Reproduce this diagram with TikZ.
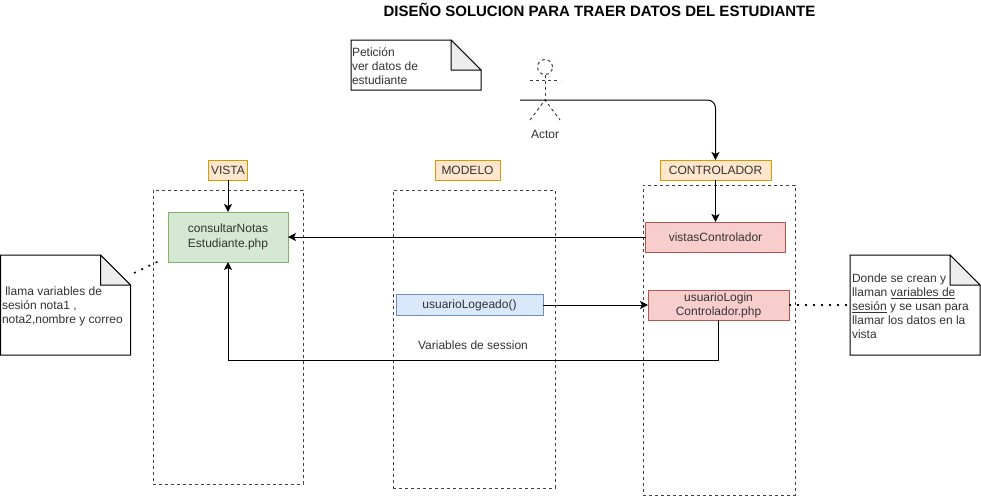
\documentclass[tikz,border=0pt]{standalone}
\usepackage{fontspec}
\setmainfont{Liberation Sans}
\usetikzlibrary{arrows.meta}
\definecolor{ink}{HTML}{333333}
\definecolor{gfill}{HTML}{D5E8D4}\definecolor{gline}{HTML}{82B366}
\definecolor{rfill}{HTML}{F8CECC}\definecolor{rline}{HTML}{B85450}
\definecolor{bfill}{HTML}{DAE8FC}\definecolor{bline}{HTML}{6C8EBF}
\definecolor{ofill}{HTML}{FFE6CC}\definecolor{oline}{HTML}{D79B00}
\tikzset{
  x=1pt,y=-1pt,
  every node/.style={font=\fontsize{12}{14}\selectfont,text=ink,inner sep=0pt,outer sep=0pt},
  conn/.style={draw=black,line width=1pt,-{Stealth[length=8pt,width=8pt,inset=2pt]}},
  frame/.style={draw=black!75,line width=1pt,dash pattern=on 3pt off 3pt},
  lbl/.style={draw=oline,fill=ofill,line width=1pt,minimum height=20pt},
  box/.style={line width=1pt,align=center},
  dots/.style={draw=black,line width=1.5pt,dash pattern=on 2pt off 6pt},
  notebox/.style={draw=none,minimum width=130pt,anchor=north west},
  notetext/.style={anchor=west,align=left,font=\fontsize{12}{14}\selectfont},
  fold/.style={draw=black,line width=1pt,fill=black!7,line join=round},
  notebody/.style={draw=black,line width=1pt,fill=white,line join=miter}
}
\newcommand{\notepath}[1]{%
  \path[notebody] (#1.north west) -- ([xshift=-30pt]#1.north east) -- ([yshift=-30pt]#1.north east) -- (#1.south east) -- (#1.south west) -- cycle;
  \path[fold] ([xshift=-30pt]#1.north east) -- ([xshift=-30pt,yshift=-30pt]#1.north east) -- ([yshift=-30pt]#1.north east) -- cycle;}
\begin{document}
\begin{tikzpicture}
\useasboundingbox (0,0) rectangle (981,496);
\fill[white] (0,0) rectangle (981,496);
% title
\node[font=\fontsize{15}{17}\selectfont\bfseries,text=black] (title) at (599.5,10) {DISEÑO SOLUCION PARA TRAER DATOS DEL ESTUDIANTE};
% containers
\node[frame,minimum width=150pt,minimum height=294pt] (fv) at (228,337) {};
\node[frame,minimum width=162pt,minimum height=298pt] (fm) at (474,339) {};
\node[frame,minimum width=152pt,minimum height=310pt] (fc) at (719,340) {};
% labels
\node[lbl,minimum width=39pt] (lv) at (228,170) {VISTA};
\node[lbl,minimum width=65pt] (lm) at (467.5,170) {MODELO};
\node[lbl,minimum width=111pt] (lc) at (715.5,170) {CONTROLADOR};
% boxes
\node[box,draw=gline,fill=gfill,minimum width=120pt,minimum height=50pt] (cn) at (228,237) {consultarNotas\\[1pt]Estudiante.php};
\node[box,draw=rline,fill=rfill,minimum width=140pt,minimum height=30pt] (vc) at (715.5,237) {vistasControlador};
\node[box,draw=rline,fill=rfill,minimum width=141pt,minimum height=30pt] (ul) at (718.5,305) {usuarioLogin\\[0pt]Controlador.php};
\node[box,draw=bline,fill=bfill,minimum width=147pt,minimum height=21pt] (ue) at (469.5,305) {usuarioLogeado()};
\node (vs) at (473,345) {Variables de session};
% notes
\node[notebox,minimum height=50pt] (n1) at (351,40) {};
\notepath{n1}
\node[notetext] (n1t) at (352,66) {Petición\\ver datos de\\estudiante};
\node[notebox,minimum height=100pt] (n2) at (0.5,255) {};
\notepath{n2}
\node[notetext] (n2t) at (2,306) {\ llama variables de\\sesión nota1 ,\\nota2,nombre y correo};
\node[notebox,minimum height=100pt] (n3) at (850,255) {};
\notepath{n3}
\node[notetext] (n3t) at (852,306) {Donde se crean y\\llaman \underline{variables de}\\\underline{sesión} y se usan para\\llamar los datos en la\\vista};
% actor
\coordinate (hub) at (545,100);
\coordinate (armL) at (530,80);
\coordinate (armR) at (560,80);
\coordinate (legL) at (530,120);
\coordinate (legR) at (560,120);
\coordinate (start) at (520,100);
\node[circle,frame,minimum size=15pt] (head) at (545,67) {};
\draw[frame] (head.south) -- (hub);
\draw[frame] (armL) -- (armR);
\draw[frame] (legL) -- (hub) -- (legR);
\node (actor) at (545,134) {Actor};
% connectors
\draw[conn,rounded corners=8pt] (start) -| (lc.north);
\draw[conn] (lc.south) -- (vc.north);
\draw[conn] (lv.south) -- (cn.north);
\draw[conn] (vc.west) -- (cn.east);
\draw[conn] (ue.east) -- (ul.west);
\draw[conn] (ul.south) -- ++(0,40) -| (cn.south);
% dotted links
\coordinate (d1) at (134,273);
\coordinate (d2) at (159,261);
\draw[dots] (d1) -- (d2);
\draw[dots] (ul.east) -- (n3.west);
\end{tikzpicture}
\end{document}
